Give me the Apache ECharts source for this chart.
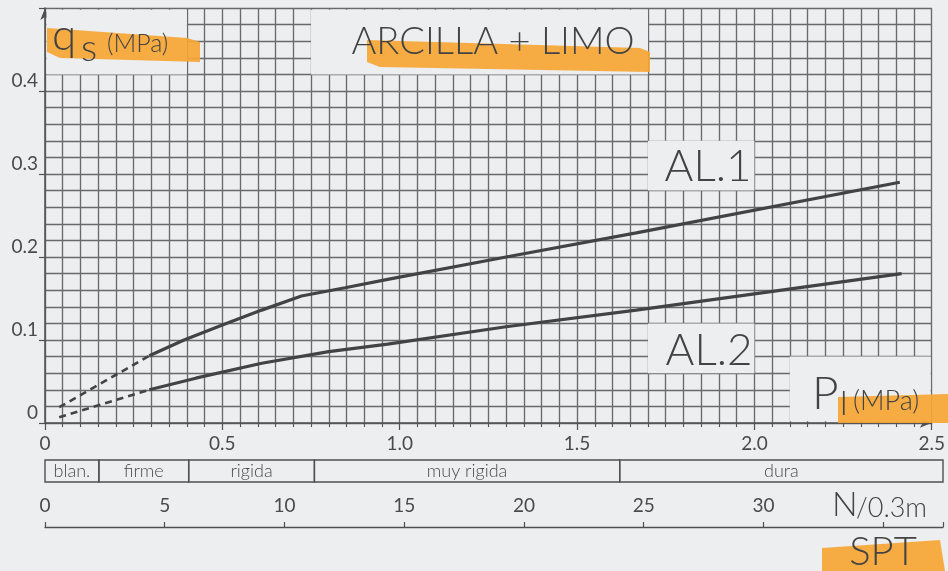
<!DOCTYPE html>
<html><head><meta charset="utf-8">
<script src="https://cdn.jsdelivr.net/npm/echarts@6/dist/echarts.min.js"></script>
<style>html,body{margin:0;padding:0;background:#eceef0;} #c{width:948px;height:571px;}</style>
</head><body><div id="c"></div>
<script>
// ---- data ----
const xTickLabels = ['0','0.5','1.0','1.5','2.0','2.5'];
const yTickLabels = ['0','0.1','0.2','0.3','0.4'];
const sptTickLabels = ['0','5','10','15','20','25','30'];
const al1Dashed = [[0.04,0.019],[0.294,0.081]];
const al1Solid = [[0.294,0.081],[0.392,0.100],[0.5,0.118],[0.611,0.136],[0.723,0.153],[0.846,0.163],[0.966,0.173],[1.30,0.200],[1.667,0.229],[2.41,0.290]];
const al2Dashed = [[0.04,0.007],[0.294,0.040]];
const al2Solid = [[0.294,0.040],[0.425,0.054],[0.611,0.072],[0.80,0.086],[0.966,0.095],[1.30,0.116],[1.667,0.136],[2.415,0.180]];
const consistencyNames = ['blan.','firme','rigida','muy rigida','dura'];
const consistencyEdges = [0,0.15,0.40,0.75,1.60,2.5];

// ---- style ----
const PAPER = '#eceef0';
const INK = '#434343';
const GRIDC = '#6a6a6a';
const FONT = 'Lato';
const HL = 'rgba(246,166,52,0.92)';

const chart = echarts.init(document.getElementById('c'), null, {renderer:'canvas'});

function lbl(list, step){
  return v => { const i = Math.round(v/step); return Math.abs(v - i*step) < 1e-6 ? (list[i] ?? '') : ''; };
}
const gl = {color: GRIDC, width: 1.35};

const bandData = consistencyNames.map((n,i)=>[consistencyEdges[i], consistencyEdges[i+1]]);

function txt(text, x, y, size, align){
  return {type:'text', z:20, x:x, y:y, style:{text:text, fill:INK, font:'300 '+size+'px '+FONT, textAlign:align||'left', textVerticalAlign:'middle'}};
}
function poly(pts){ return {type:'polygon', z:15, shape:{points:pts}, style:{fill:HL}}; }

const option = {
  backgroundColor: PAPER,
  animation: false,
  grid: [
    {left:45, right:5, top:8, bottom:148},
    {left:45, right:5, top:460, height:22},
    {left:45, right:5, top:526, height:1}
  ],
  xAxis: [
    {gridIndex:0, type:'value', min:0, max:2.5, interval:0.5,
     axisLine:{show:true, symbol:['none','arrow'], symbolSize:[7,12], lineStyle:{color:'#505050', width:1.5}},
     axisTick:{show:true, length:7, lineStyle:{color:'#505050', width:1.2}},
     minorTick:{show:true, splitNumber:10, length:4, lineStyle:{color:'#505050', width:1.1}},
     splitLine:{show:true, lineStyle:gl},
     minorSplitLine:{show:true, lineStyle:gl},
     axisLabel:{formatter:lbl(xTickLabels,0.5), color:'#4a4a4a', fontFamily:FONT, fontSize:19, margin:11}},
    {gridIndex:1, type:'value', min:0, max:2.5, show:false},
    {gridIndex:2, type:'value', min:0, max:37.5, interval:5, position:'top',
     axisLine:{show:true, lineStyle:{color:'#505050', width:1.3}},
     axisTick:{show:true, length:5, lineStyle:{color:'#505050', width:1.2}},
     splitLine:{show:false},
     axisLabel:{formatter:lbl(sptTickLabels,5), color:'#4a4a4a', fontFamily:FONT, fontSize:19, margin:11}}
  ],
  yAxis: [
    {gridIndex:0, type:'value', min:0, max:0.5, interval:0.1,
     axisLine:{show:true, symbol:['none','arrow'], symbolSize:[7,12], lineStyle:{color:'#505050', width:1.5}},
     axisTick:{show:true, length:6, lineStyle:{color:'#505050', width:1.2}},
     minorTick:{show:false, splitNumber:5},
     splitLine:{show:true, lineStyle:gl},
     minorSplitLine:{show:true, lineStyle:gl},
     axisLabel:{formatter:lbl(yTickLabels,0.1), color:'#4a4a4a', fontFamily:FONT, fontSize:19, margin:7, verticalAlign:'bottom', lineHeight:20}},
    {gridIndex:1, type:'value', min:0, max:1, show:false},
    {gridIndex:2, type:'value', min:0, max:1, show:false}
  ],
  series: [
    {type:'line', name:'AL.1 (extrap.)', data:al1Dashed, symbol:'none', lineStyle:{color:INK, width:2.6, type:[7,5]},
     markArea:{silent:true, itemStyle:{color:PAPER, opacity:1}, label:{show:false},
       data:[
         [{coord:[0.004,0.42]},{coord:[0.4,0.498]}],
         [{coord:[0.75,0.42]},{coord:[1.70,0.498]}],
         [{coord:[1.70,0.28]},{coord:[2.0,0.34]}],
         [{coord:[1.70,0.06]},{coord:[2.0,0.12]}],
         [{coord:[2.10,0.002]},{coord:[2.497,0.08]}]
       ]}},
    {type:'line', name:'AL.1', data:al1Solid, symbol:'none', lineStyle:{color:INK, width:3.2}},
    {type:'line', name:'AL.2 (extrap.)', data:al2Dashed, symbol:'none', lineStyle:{color:INK, width:2.6, type:[7,5]}},
    {type:'line', name:'AL.2', data:al2Solid, symbol:'none', lineStyle:{color:INK, width:3.2}},
    {type:'custom', name:'consistencia', xAxisIndex:1, yAxisIndex:1, data:bandData, encode:{x:[0,1]}, clip:false,
     renderItem:(params, api)=>{
       const p0 = api.coord([api.value(0), 1]);
       const p1 = api.coord([api.value(1), 0]);
       return {type:'group', children:[
         {type:'rect', shape:{x:p0[0], y:p0[1], width:p1[0]-p0[0], height:p1[1]-p0[1]}, style:{fill:'none', stroke:'#505050', lineWidth:1.4}},
         {type:'text', x:(p0[0]+p1[0])/2, y:(p0[1]+p1[1])/2, style:{text:consistencyNames[params.dataIndex], fill:'#4a4a4a', font:'300 18px '+FONT, textAlign:'center', textVerticalAlign:'middle'}}
       ]};
     }}
  ],
  graphic: {elements: [
    poly([[47,28],[187,38],[200,42],[200,62],[60,58],[47,52]]),
    poly([[367,40],[640,48],[650,52],[650,72],[380,67],[367,62]]),
    poly([[838,397],[948,394],[948,423],[838,423]]),
    poly([[822,548],[940,540],[945,571],[822,571]]),
    txt('q', 52, 36, 44),
    txt('s', 81, 49, 38),
    txt('(MPa)', 107, 44, 25),
    txt('ARCILLA + LIMO', 493, 42, 38, 'center'),
    txt('AL.1', 708, 167, 44, 'center'),
    txt('AL.2', 709, 351, 44, 'center'),
    txt('P', 812, 394, 46),
    txt('l', 840, 404, 34),
    txt('(MPa)', 853, 401, 27),
    txt('N', 832, 505, 34),
    txt('/0.3m', 856, 508, 27),
    txt('SPT', 883, 552, 40, 'center')
  ]}
};
chart.setOption(option);
</script></body></html>
